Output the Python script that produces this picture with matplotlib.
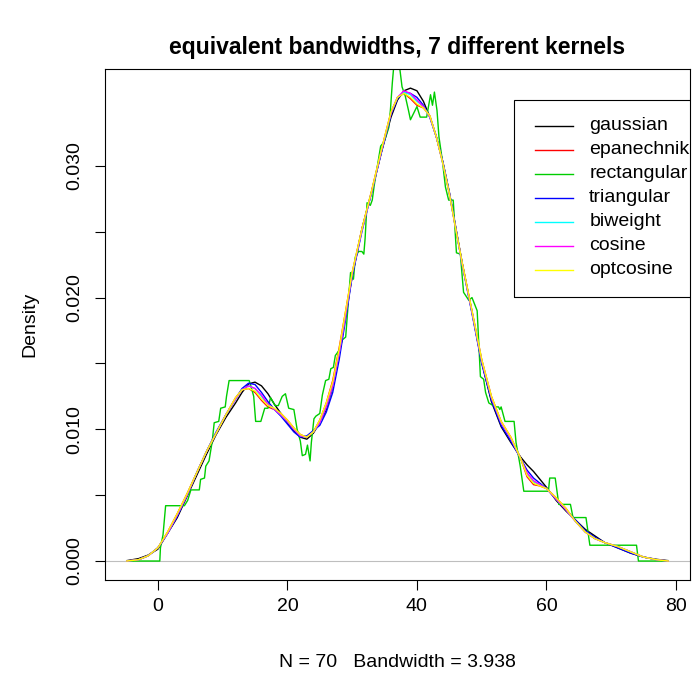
import matplotlib
matplotlib.use('Agg')
import matplotlib.pyplot as plt
from matplotlib.patches import Rectangle

plt.rcParams['font.family'] = ['Liberation Sans', 'DejaVu Sans']

# valores
kernels = ["gaussian", "epanechnikov", "rectangular", "triangular",
           "biweight", "cosine", "optcosine"]
colores = ["black", "red", "#00CD00", "blue", "cyan", "magenta", "yellow"]

# rejilla x común para los núcleos suaves
xs = [-4.8, -3, -1.5, 0, 1.5, 3, 4.5, 6, 7.5, 9, 10.5, 12, 13, 14, 15, 16, 17,
      18, 19, 20, 21, 22, 23, 24, 25, 26, 27, 28, 29, 30, 31.5, 33, 34.5, 36,
      37, 38, 39, 40, 41, 42, 43, 44, 45, 46, 47, 48.5, 50, 51.5, 53, 54.5, 56,
      57, 58, 59, 60, 61.5, 63, 64.5, 66, 67.5, 69, 71, 73, 75, 77, 78.8]

y_gaussian = [0.00003, 0.00018, 0.00045, 0.0009, 0.0021, 0.0033, 0.0049, 0.0065,
              0.0081, 0.0096, 0.0109, 0.0120, 0.0128, 0.01345, 0.01358, 0.0133,
              0.0127, 0.0119, 0.0112, 0.0105, 0.0099, 0.0094, 0.00925, 0.0097,
              0.0105, 0.0115, 0.0132, 0.0158, 0.0187, 0.0216, 0.0252, 0.0280,
              0.0310, 0.0337, 0.0350, 0.0357, 0.0359, 0.0357, 0.0349, 0.0337,
              0.0322, 0.0303, 0.0280, 0.0253, 0.0226, 0.0189, 0.0151, 0.0121,
              0.0102, 0.0090, 0.0079, 0.0073, 0.0068, 0.0062, 0.0056, 0.0046,
              0.0038, 0.0031, 0.0024, 0.0019, 0.0014, 0.0010, 0.0006, 0.0003,
              0.00013, 0.00003]

y_epanechnikov = [0.0, 0.0001, 0.0004, 0.0010, 0.0022, 0.0036, 0.0051, 0.0067,
                  0.0083, 0.0097, 0.0111, 0.0124, 0.0130, 0.0131, 0.0128, 0.0122,
                  0.0117, 0.0115, 0.0112, 0.0107, 0.0101, 0.0096, 0.0094, 0.0098,
                  0.0107, 0.0120, 0.0137, 0.0162, 0.0190, 0.0219, 0.0252, 0.0281,
                  0.0312, 0.0341, 0.0352, 0.0355, 0.0351, 0.0346, 0.0344, 0.0338,
                  0.0322, 0.0302, 0.0279, 0.0252, 0.0226, 0.0190, 0.0153, 0.0125,
                  0.0106, 0.0094, 0.0078, 0.0064, 0.0058, 0.0057, 0.0055, 0.0048,
                  0.0040, 0.0030, 0.0022, 0.0017, 0.0014, 0.0011, 0.0007, 0.0003,
                  0.0001, 0.0]

y_triangular = [0.0, 0.0001, 0.0004, 0.0010, 0.0021, 0.0034, 0.0050, 0.0067,
                0.0083, 0.0098, 0.0111, 0.0123, 0.0131, 0.0135, 0.0134, 0.0128,
                0.0121, 0.0115, 0.0110, 0.0104, 0.0098, 0.0094, 0.0095, 0.0099,
                0.0103, 0.0113, 0.0128, 0.0153, 0.0184, 0.0216, 0.0250, 0.0280,
                0.0310, 0.0339, 0.0351, 0.0356, 0.0355, 0.0352, 0.0346, 0.0337,
                0.0322, 0.0303, 0.0280, 0.0253, 0.0225, 0.0188, 0.0150, 0.0122,
                0.0103, 0.0091, 0.0078, 0.0069, 0.0063, 0.0059, 0.0055, 0.0047,
                0.0039, 0.0031, 0.0023, 0.0018, 0.0014, 0.0010, 0.0006, 0.0003,
                0.0001, 0.0]

y_biweight = [0.0, 0.0001, 0.0004, 0.0010, 0.0021, 0.0035, 0.0050, 0.0067,
              0.0083, 0.0097, 0.0111, 0.0123, 0.0130, 0.0133, 0.0131, 0.0125,
              0.0119, 0.0115, 0.0111, 0.0106, 0.0100, 0.0095, 0.0094, 0.0098,
              0.0105, 0.0117, 0.0133, 0.0158, 0.0187, 0.0218, 0.0251, 0.0280,
              0.0311, 0.0340, 0.0352, 0.0356, 0.0354, 0.0349, 0.0345, 0.0337,
              0.0322, 0.0302, 0.0279, 0.0252, 0.0225, 0.0189, 0.0152, 0.0124,
              0.0105, 0.0093, 0.0078, 0.0066, 0.0060, 0.0058, 0.0055, 0.0047,
              0.0039, 0.0030, 0.0022, 0.0017, 0.0014, 0.0011, 0.0007, 0.0003,
              0.0001, 0.0]

y_cosine = [0.0, 0.0001, 0.0004, 0.0010, 0.0021, 0.0035, 0.0050, 0.0067,
            0.0083, 0.0097, 0.0111, 0.0123, 0.0130, 0.0133, 0.0131, 0.0126,
            0.0119, 0.0115, 0.0111, 0.0106, 0.0100, 0.0095, 0.0094, 0.0098,
            0.0105, 0.0117, 0.0133, 0.0158, 0.0187, 0.0218, 0.0251, 0.0280,
            0.0311, 0.0340, 0.0352, 0.0357, 0.0355, 0.0350, 0.0345, 0.0337,
            0.0322, 0.0302, 0.0279, 0.0252, 0.0225, 0.0189, 0.0152, 0.0124,
            0.0105, 0.0093, 0.0078, 0.0067, 0.0061, 0.0058, 0.0055, 0.0047,
            0.0039, 0.0030, 0.0022, 0.0017, 0.0014, 0.0011, 0.0007, 0.0003,
            0.0001, 0.0]

y_optcosine = [0.0, 0.0001, 0.0004, 0.0010, 0.0022, 0.0036, 0.0051, 0.0067,
               0.0083, 0.0097, 0.0111, 0.0124, 0.0130, 0.0131, 0.0129, 0.0123,
               0.0118, 0.0116, 0.0112, 0.0107, 0.0101, 0.0096, 0.0094, 0.0098,
               0.0107, 0.0120, 0.0136, 0.0161, 0.0190, 0.0219, 0.0252, 0.0281,
               0.0312, 0.0341, 0.0352, 0.0355, 0.0352, 0.0347, 0.0344, 0.0338,
               0.0322, 0.0302, 0.0279, 0.0252, 0.0226, 0.0190, 0.0153, 0.0125,
               0.0106, 0.0094, 0.0078, 0.0065, 0.0059, 0.0057, 0.0055, 0.0048,
               0.0040, 0.0030, 0.0022, 0.0017, 0.0014, 0.0011, 0.0007, 0.0003,
               0.0001, 0.0]

# núcleo rectangular (escalones)
rect_x = [-4.8, 0.3, 0.4, 0.8, 1.2, 4.1, 4.6, 5.1, 6.4, 6.6, 7.2, 7.4, 7.9, 8.2,
          8.4, 8.7, 9.4, 9.7, 10.4, 10.6, 11.0, 14.1, 14.3, 14.8, 15.1, 15.9,
          16.5, 17.0, 17.4, 18.1, 18.6, 19.2, 19.7, 20.2, 21.0, 21.5, 22.0, 22.3,
          22.8, 23.1, 23.5, 23.7, 24.1, 24.4, 25.0, 25.4, 25.9, 26.4, 26.7, 27.1,
          27.4, 28.0, 28.5, 29.0, 29.75, 30.2, 30.5, 31.0, 31.5, 31.8, 32.0, 32.3,
          32.8, 33.1, 33.4, 34.4, 34.9, 35.2, 35.65, 35.9, 36.2, 36.5, 37.2, 37.7,
          38.2, 38.7, 39.0, 39.5, 40.0, 40.5, 41.5, 42.1, 42.4, 42.7, 43.1, 43.4,
          43.9, 44.4, 44.9, 45.6, 46.1, 46.7, 47.2, 48.0, 48.5, 49.3, 49.8, 50.3,
          50.6, 51.1, 52.1, 52.6, 52.8, 53.0, 53.6, 55.0, 55.3, 55.95, 56.5, 60.3,
          60.5, 61.35, 61.9, 63.7, 64.1, 66.1, 66.7, 73.9, 74.2, 78.8]
rect_y = [0, 0, 0.0010, 0.0020, 0.0042, 0.0042, 0.0046, 0.0054, 0.0054, 0.0062,
          0.0063, 0.0072, 0.0076, 0.0085, 0.0091, 0.0105, 0.0106, 0.0116, 0.0117,
          0.0125, 0.0137, 0.0137, 0.0134, 0.0125, 0.0106, 0.0106, 0.0116, 0.0116,
          0.0124, 0.0118, 0.0118, 0.0125, 0.0127, 0.0116, 0.0115, 0.0100, 0.0091,
          0.0080, 0.0081, 0.0088, 0.0076, 0.0090, 0.0108, 0.0110, 0.0112, 0.0126,
          0.0137, 0.0138, 0.0146, 0.0147, 0.0156, 0.0160, 0.0168, 0.0170, 0.0219,
          0.0214, 0.0231, 0.0235, 0.0235, 0.0233, 0.0245, 0.0272, 0.0270, 0.0274,
          0.0285, 0.0315, 0.0318, 0.0322, 0.0329, 0.0342, 0.0363, 0.0380, 0.0380,
          0.0360, 0.0353, 0.0342, 0.0335, 0.0340, 0.0345, 0.0337, 0.0337, 0.0354,
          0.0346, 0.0356, 0.0342, 0.0322, 0.0305, 0.0284, 0.0274, 0.0274, 0.0234,
          0.0233, 0.0204, 0.0198, 0.0200, 0.0190, 0.0140, 0.0138, 0.0128, 0.0120,
          0.0117, 0.0117, 0.0115, 0.0117, 0.0106, 0.0106, 0.0090, 0.0072, 0.0053,
          0.0053, 0.0063, 0.0063, 0.0043, 0.0043, 0.0033, 0.0033, 0.0012, 0.0012,
          0.0, 0.0]

curvas = {
    "gaussian": (xs, y_gaussian),
    "epanechnikov": (xs, y_epanechnikov),
    "rectangular": (rect_x, rect_y),
    "triangular": (xs, y_triangular),
    "biweight": (xs, y_biweight),
    "cosine": (xs, y_cosine),
    "optcosine": (xs, y_optcosine),
}

fig = plt.figure(figsize=(6.95, 6.8), dpi=100)
ax = fig.add_axes([105 / 695, 100 / 680, 585 / 695, 510.7 / 680])

# línea del cero
ax.axhline(0, color="#BEBEBE", lw=0.8, zorder=1)

for k, c in zip(kernels, colores):
    x, y = curvas[k]
    ax.plot(x, y, color=c, lw=1.0, zorder=2)

ax.set_xlim(-8.16, 82.16)
ax.set_ylim(-0.00144, 0.03733)

ax.set_xticks([0, 20, 40, 60, 80])
ax.set_yticks([0, 0.005, 0.010, 0.015, 0.020, 0.025, 0.030])
ax.set_yticklabels(["0.000", "", "0.010", "", "0.020", "", "0.030"],
                   rotation=90, va="center")
ax.tick_params(direction="out", length=7, width=0.8, labelsize=14)
ax.tick_params(axis="x", pad=6)
ax.tick_params(axis="y", pad=9)
for s in ax.spines.values():
    s.set_linewidth(0.8)

ax.set_title("equivalent bandwidths, 7 different kernels",
             fontsize=16.5, fontweight="bold", pad=11)
ax.set_xlabel("N = 70   Bandwidth = 3.938", fontsize=14, labelpad=28)
ax.set_ylabel("Density", fontsize=14, labelpad=20)

# leyenda como la de R: esquina superior izquierda en (55, 0.035), recortada
paso = 0.001818
ax.add_patch(Rectangle((55, 0.02008), 40, 0.035 - 0.02008, fill=False,
                       edgecolor="black", lw=0.8, clip_on=True, zorder=3))
for i, (k, c) in enumerate(zip(kernels, colores)):
    yy = 0.03303 - i * paso
    ax.plot([58.3, 64.1], [yy, yy], color=c, lw=1.0, clip_on=True, zorder=3)
    ax.text(66.6, yy, k, fontsize=14, va="center", ha="left", clip_on=True,
            zorder=3)

plt.savefig("out.png", dpi=100)
plt.close()
